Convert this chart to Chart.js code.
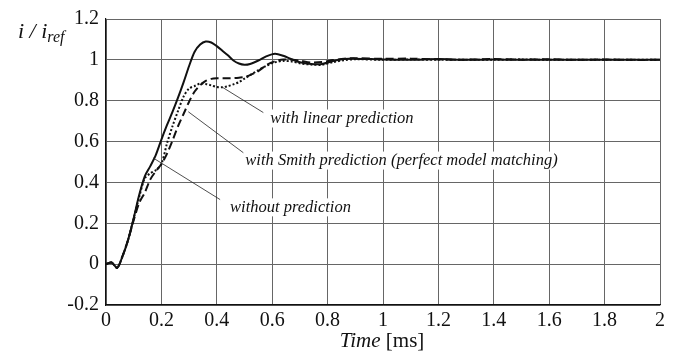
<!DOCTYPE html>
<html>
<head>
<meta charset="utf-8">
<script src="https://cdn.jsdelivr.net/npm/chart.js@4/dist/chart.umd.min.js"></script>
<style>
  html, body { margin: 0; padding: 0; background: #fff; }
  #wrap { width: 686px; height: 352px; }
</style>
</head>
<body>
<div id="wrap"><canvas id="chart"></canvas></div>
<script>
// time axis [ms]
const timeMs = [0, 0.02, 0.04, 0.06, 0.08, 0.10, 0.12, 0.14, 0.16, 0.18, 0.20, 0.22, 0.24, 0.26, 0.28, 0.30,
  0.32, 0.34, 0.36, 0.38, 0.40, 0.42, 0.44, 0.46, 0.48, 0.50, 0.52, 0.55, 0.58, 0.61, 0.64, 0.67, 0.70,
  0.74, 0.78, 0.82, 0.86, 0.9, 1.0, 1.1, 1.2, 1.3, 1.4, 1.5, 1.6, 1.7, 1.8, 1.9, 2.0];

// without prediction (solid)
const withoutPred = [0, 0.008, -0.018, 0.04, 0.12, 0.225, 0.34, 0.43, 0.48, 0.535, 0.61, 0.68, 0.745, 0.815, 0.89, 0.97,
  1.04, 1.075, 1.09, 1.085, 1.067, 1.045, 1.022, 0.997, 0.982, 0.976, 0.98, 0.997, 1.018, 1.03, 1.02, 1.003, 0.988,
  0.98, 0.98, 0.994, 1.004, 1.006, 1.002, 1.0, 1.004, 1.0, 1.002, 1.0, 1.001, 1.0, 1.001, 1.0, 1.0];

// with linear prediction (dotted)
const linearPred = [0, 0.008, -0.018, 0.04, 0.12, 0.225, 0.33, 0.42, 0.445, 0.46, 0.49, 0.59, 0.675, 0.75, 0.82, 0.86,
  0.872, 0.884, 0.882, 0.875, 0.867, 0.866, 0.871, 0.88, 0.891, 0.908, 0.925, 0.95, 0.972, 0.988, 0.995, 0.992, 0.983,
  0.977, 0.976, 0.989, 0.998, 1.003, 1.0, 1.002, 1.0, 1.001, 1.0, 1.002, 1.0, 1.001, 1.0, 1.0, 1.0];

// with Smith prediction (dashed)
const smithPred = [0, 0.008, -0.018, 0.04, 0.12, 0.215, 0.3, 0.35, 0.415, 0.455, 0.49, 0.54, 0.605, 0.675, 0.735, 0.795,
  0.845, 0.876, 0.897, 0.907, 0.91, 0.91, 0.91, 0.911, 0.913, 0.916, 0.925, 0.945, 0.975, 0.993, 1.002, 1.0, 0.996,
  0.987, 0.989, 0.999, 1.006, 1.008, 1.005, 1.006, 1.002, 1.001, 1.004, 1.001, 1.003, 1.0, 1.002, 1.0, 1.0];

const xTicks = [0, 0.2, 0.4, 0.6, 0.8, 1, 1.2, 1.4, 1.6, 1.8, 2];
const yTicks = [-0.2, 0, 0.2, 0.4, 0.6, 0.8, 1, 1.2];

// leader labels: text, text anchor [t, y], line from curve point to label
const notes = [
  { text: "with linear prediction", at: [0.593, 0.713], from: [0.42, 0.866], to: [0.568, 0.742] },
  { text: "with Smith prediction (perfect model matching)", at: [0.503, 0.507], from: [0.297, 0.746], to: [0.51, 0.531] },
  { text: "without prediction", at: [0.448, 0.278], from: [0.17, 0.52], to: [0.412, 0.316] },
];

const serif = "'Liberation Serif', 'DejaVu Serif', serif";

function pts(ys) {
  return timeMs.map((t, i) => ({ x: t, y: ys[i] }));
}

const textPlugin = {
  id: "texts",
  afterDraw(chart) {
    const ctx = chart.ctx;
    const xs = chart.scales.x, ys = chart.scales.y;
    ctx.save();
    ctx.fillStyle = "#111";
    ctx.strokeStyle = "#222";
    ctx.lineWidth = 0.8;
    ctx.textBaseline = "middle";
    ctx.textAlign = "left";
    ctx.font = "italic 16.5px " + serif;
    notes.forEach(n => {
      ctx.beginPath();
      ctx.moveTo(xs.getPixelForValue(n.from[0]), ys.getPixelForValue(n.from[1]));
      ctx.lineTo(xs.getPixelForValue(n.to[0]), ys.getPixelForValue(n.to[1]));
      ctx.stroke();
      const px = xs.getPixelForValue(n.at[0]), py = ys.getPixelForValue(n.at[1]);
      const w = ctx.measureText(n.text).width;
      ctx.fillStyle = "#fff";
      ctx.fillRect(px - 2, py - 9, w + 4, 18);
      ctx.fillStyle = "#111";
      ctx.fillText(n.text, px, py);
    });

    // y axis title: i / i_ref
    ctx.textBaseline = "alphabetic";
    ctx.font = "italic 22px " + serif;
    let x = 18;
    const yb = 38;
    ctx.fillText("i / i", x, yb);
    x += ctx.measureText("i / i").width;
    ctx.font = "italic 16px " + serif;
    ctx.fillText("ref", x, yb + 4);

    // x axis title: Time [ms]
    ctx.font = "italic 21px " + serif;
    const w1 = ctx.measureText("Time").width;
    ctx.font = "21px " + serif;
    const w2 = ctx.measureText(" [ms]").width;
    let tx = 382 - (w1 + w2) / 2;
    ctx.font = "italic 21px " + serif;
    ctx.fillText("Time", tx, 347);
    ctx.font = "21px " + serif;
    ctx.fillText(" [ms]", tx + w1, 347);
    ctx.restore();
  }
};

new Chart(document.getElementById("chart"), {
  type: "line",
  data: {
    datasets: [
      { label: "without prediction", data: pts(withoutPred), borderColor: "#111", borderWidth: 2, tension: 0.3 },
      { label: "with linear prediction", data: pts(linearPred), borderColor: "#111", borderWidth: 2, borderDash: [2, 2], tension: 0.3 },
      { label: "with Smith prediction", data: pts(smithPred), borderColor: "#111", borderWidth: 2, borderDash: [8, 4], tension: 0.3 },
    ],
  },
  options: {
    responsive: true,
    maintainAspectRatio: false,
    animation: false,
    layout: { padding: { top: 12, right: 26, left: 0, bottom: 0 } },
    elements: { point: { radius: 0 } },
    plugins: { legend: { display: false }, tooltip: { enabled: false } },
    scales: {
      x: {
        type: "linear",
        min: 0, max: 2,
        afterBuildTicks: s => { s.ticks = xTicks.map(v => ({ value: v })); },
        afterFit: s => { s.height = 47; },
        border: { color: "#111", width: 1.2 },
        grid: { color: "#666", lineWidth: 1, drawTicks: false },
        ticks: {
          padding: 4,
          color: "#111",
          font: { family: serif, size: 20 },
          callback: v => String(v),
        },
      },
      y: {
        min: -0.2, max: 1.2,
        afterBuildTicks: s => { s.ticks = yTicks.map(v => ({ value: v })); },
        afterFit: s => { s.width = 106; },
        border: { color: "#111", width: 1.2 },
        grid: { color: "#666", lineWidth: 1, drawTicks: false },
        ticks: {
          padding: 7,
          color: "#111",
          font: { family: serif, size: 20 },
          callback: v => String(v),
        },
      },
    },
  },
  plugins: [textPlugin],
});
</script>
</body>
</html>
